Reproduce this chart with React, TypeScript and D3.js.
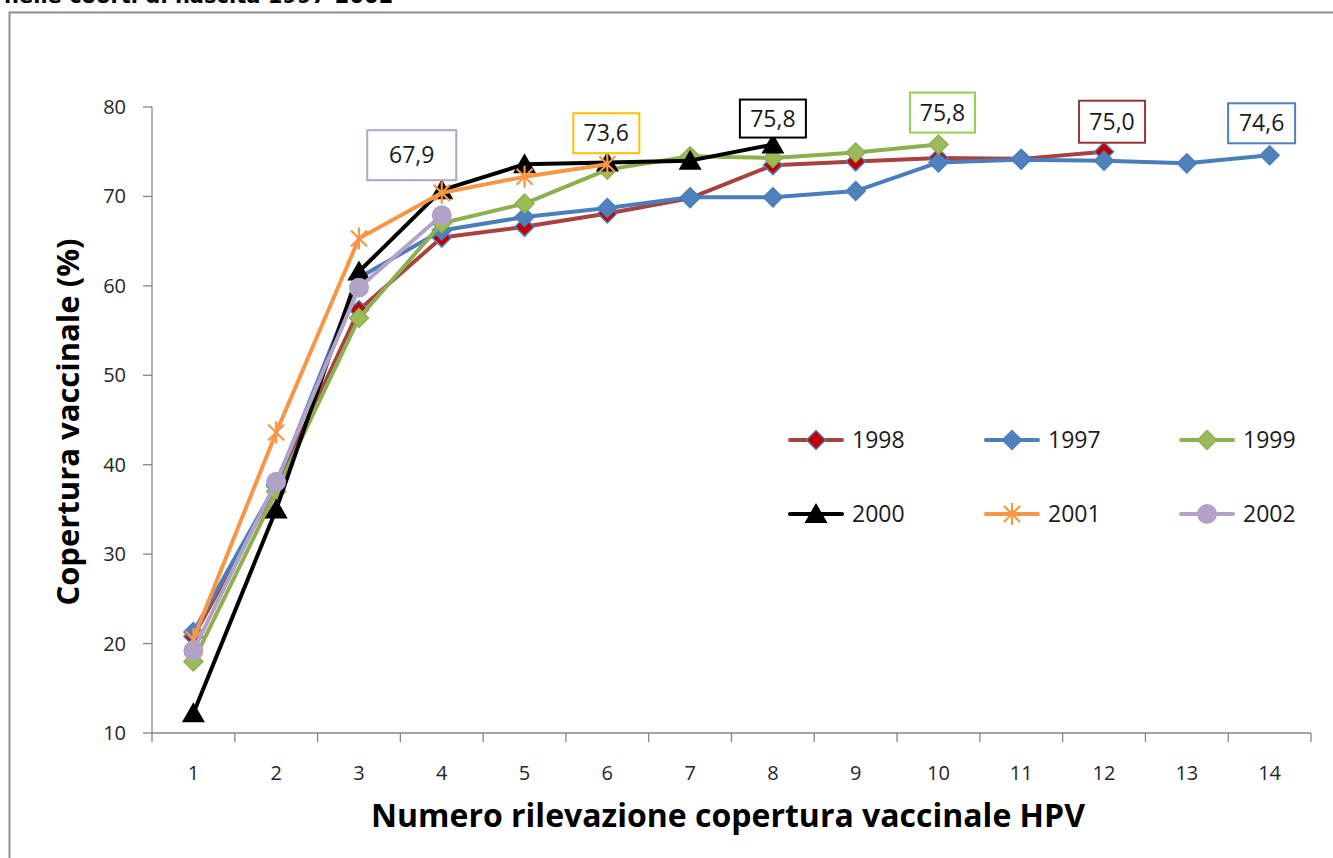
import React from 'react';
import * as d3 from 'd3';

// --- Data ---
const rilevazioni = [1, 2, 3, 4, 5, 6, 7, 8, 9, 10, 11, 12, 13, 14];
const yTicks = [10, 20, 30, 40, 50, 60, 70, 80];

const cov1998 = [20.8, 37.6, 57.3, 65.4, 66.6, 68.1, 69.8, 73.5, 73.9, 74.3, 74.2, 75.0];
const cov1997 = [21.3, 37.8, 60.9, 66.2, 67.7, 68.7, 69.9, 69.9, 70.6, 73.8, 74.1, 74.0, 73.7, 74.6];
const cov1999 = [18.0, 37.0, 56.4, 67.0, 69.2, 73.0, 74.5, 74.3, 74.9, 75.8];
const cov2000 = [12.2, 35.0, 61.6, 70.7, 73.6, 73.8, 74.0, 75.8];
const cov2001 = [20.5, 43.6, 65.3, 70.4, 72.2, 73.6];
const cov2002 = [19.2, 38.1, 59.8, 67.9];

type Marker = 'diamond' | 'triangle' | 'star' | 'circle';

const series = [
  { name: '1998', values: cov1998, line: '#A8423F', fill: '#C00000', stroke: '#4F81BD', marker: 'diamond' as Marker },
  { name: '1997', values: cov1997, line: '#4A7EBB', fill: '#4F81BD', stroke: '#4A7EBB', marker: 'diamond' as Marker },
  { name: '1999', values: cov1999, line: '#8DB04F', fill: '#9BBB59', stroke: '#8DB04F', marker: 'diamond' as Marker },
  { name: '2000', values: cov2000, line: '#000000', fill: '#000000', stroke: '#000000', marker: 'triangle' as Marker },
  { name: '2001', values: cov2001, line: '#F79646', fill: 'none', stroke: '#F79646', marker: 'star' as Marker },
  { name: '2002', values: cov2002, line: '#B3A2C7', fill: '#B3A2C7', stroke: '#B3A2C7', marker: 'circle' as Marker },
];

// last-point labels: series name, label text, box colour
const labels = [
  { name: '2002', text: '67,9', color: '#B3A2C7' },
  { name: '2001', text: '73,6', color: '#FFC000' },
  { name: '2000', text: '75,8', color: '#000000' },
  { name: '1999', text: '75,8', color: '#92D050' },
  { name: '1998', text: '75,0', color: '#953735' },
  { name: '1997', text: '74,6', color: '#4F81BD' },
];

// layout of the label boxes relative to their point (box centre offset, box size)
const labelLayout: Record<string, { dx: number; dy: number; w: number; h: number }> = {
  '2002': { dx: -30, dy: -60, w: 89, h: 50 },
  '2001': { dx: -1, dy: -31, w: 66, h: 40 },
  '2000': { dx: 0, dy: -26, w: 66, h: 38 },
  '1999': { dx: 4, dy: -32, w: 65, h: 40 },
  '1998': { dx: 8, dy: -30, w: 66, h: 42 },
  '1997': { dx: -8, dy: -32, w: 67, h: 40 },
};

const font = "'Open Sans', 'Noto Sans', sans-serif";

const markerPath = (m: Marker) => {
  switch (m) {
    case 'diamond':
      return 'M0,-9.5L9.5,0L0,9.5L-9.5,0Z';
    case 'triangle':
      return 'M0,-11L11.5,9L-11.5,9Z';
    case 'star':
      return 'M-8,-8L8,8M-8,8L8,-8M0,-11L0,11';
    default:
      return '';
  }
};

const MarkerShape = ({ m, fill, stroke, x, y }: { m: Marker; fill: string; stroke: string; x: number; y: number }) => {
  if (m === 'circle') {
    return <circle cx={x} cy={y} r={10} fill={fill} />;
  }
  if (m === 'star') {
    return (
      <path d={markerPath(m)} transform={`translate(${x},${y})`} fill="none" stroke={stroke} strokeWidth={2.2} />
    );
  }
  return (
    <path
      d={markerPath(m)}
      transform={`translate(${x},${y})`}
      fill={fill}
      stroke={stroke}
      strokeWidth={m === 'triangle' ? 0 : 1.5}
    />
  );
};

const App = () => {
  const width = 1333;
  const height = 858;
  const margin = { top: 107, right: 22, bottom: 125, left: 152 };

  const x = d3
    .scaleBand<number>()
    .domain(rilevazioni)
    .range([margin.left, width - margin.right]);
  const cx = (d: number) => (x(d) as number) + x.bandwidth() / 2;

  const y = d3.scaleLinear().domain([10, 80]).range([height - margin.bottom, margin.top]);

  const line = d3
    .line<number>()
    .x((_, i) => cx(rilevazioni[i]))
    .y((d) => y(d));

  const axisColor = '#868686';
  const xTickPos = [...rilevazioni.map((d) => x(d) as number), x.range()[1]];

  const legendCols = [790, 986, 1181];
  const legendRows = [440, 514];

  return (
    <svg
      width={width}
      height={height}
      style={{ position: 'absolute', left: 0, top: 0, background: '#fff' }}
      fontFamily={font}
    >
      {/* cut-off title */}
      <text x={4} y={3} fontFamily="'DejaVu Sans', sans-serif" fontWeight="bold" fontSize={21} fill="#000">
        nelle coorti di nascita 1997-2002
      </text>

      {/* chart frame */}
      <path d={`M9.5,${height}V12.5H${width}`} fill="none" stroke="#8c8c8c" strokeWidth={2} />

      {/* y axis */}
      <line x1={margin.left} x2={margin.left} y1={y(80)} y2={y(10)} stroke={axisColor} strokeWidth={1.3} />
      {yTicks.map((t) => (
        <g key={t}>
          <line x1={margin.left - 9} x2={margin.left} y1={y(t)} y2={y(t)} stroke={axisColor} strokeWidth={1.3} />
          <text x={126} y={y(t)} dy="0.35em" textAnchor="end" fontSize={20} fill="#262626">
            {t}
          </text>
        </g>
      ))}

      {/* x axis */}
      <line x1={x.range()[0]} x2={x.range()[1]} y1={y(10)} y2={y(10)} stroke={axisColor} strokeWidth={1.3} />
      {xTickPos.map((p, i) => (
        <line key={i} x1={p} x2={p} y1={y(10)} y2={y(10) + 9} stroke={axisColor} strokeWidth={1.3} />
      ))}
      {rilevazioni.map((d) => (
        <text key={d} x={cx(d)} y={773} dy="0.35em" textAnchor="middle" fontSize={20} fill="#262626">
          {d}
        </text>
      ))}

      {/* axis titles */}
      <text x={728} y={816} dy="0.35em" textAnchor="middle" fontSize={32} fontWeight="bold" fill="#000">
        Numero rilevazione copertura vaccinale HPV
      </text>
      <text
        transform={`translate(68,422) rotate(-90)`}
        dy="0.35em"
        textAnchor="middle"
        fontSize={31}
        fontWeight="bold"
        fill="#000"
      >
        Copertura vaccinale (%)
      </text>

      {/* series */}
      {series.map((s) => (
        <g key={s.name}>
          <path d={line(s.values) || ''} fill="none" stroke={s.line} strokeWidth={4} strokeLinejoin="round" />
          {s.values.map((v, i) => (
            <MarkerShape key={i} m={s.marker} fill={s.fill} stroke={s.stroke} x={cx(rilevazioni[i])} y={y(v)} />
          ))}
        </g>
      ))}

      {/* last-value labels */}
      {labels.map((l) => {
        const s = series.find((d) => d.name === l.name)!;
        const i = s.values.length - 1;
        const lay = labelLayout[l.name];
        const px = cx(rilevazioni[i]) + lay.dx;
        const py = y(s.values[i]) + lay.dy;
        return (
          <g key={l.name}>
            <rect
              x={px - lay.w / 2}
              y={py - lay.h / 2}
              width={lay.w}
              height={lay.h}
              fill="#fff"
              stroke={l.color}
              strokeWidth={2}
            />
            <text x={px} y={py} dy="0.35em" textAnchor="middle" fontSize={23} fill="#1a1a1a">
              {l.text}
            </text>
          </g>
        );
      })}

      {/* legend */}
      {series.map((s, i) => {
        const lx = legendCols[i % 3];
        const ly = legendRows[Math.floor(i / 3)];
        return (
          <g key={s.name}>
            <line x1={lx} x2={lx + 52} y1={ly} y2={ly} stroke={s.line} strokeWidth={4} strokeLinecap="round" />
            <MarkerShape m={s.marker} fill={s.fill} stroke={s.stroke} x={lx + 26} y={ly} />
            <text x={lx + 62} y={ly} dy="0.35em" fontSize={23} fill="#1a1a1a">
              {s.name}
            </text>
          </g>
        );
      })}
    </svg>
  );
};

export default App;
